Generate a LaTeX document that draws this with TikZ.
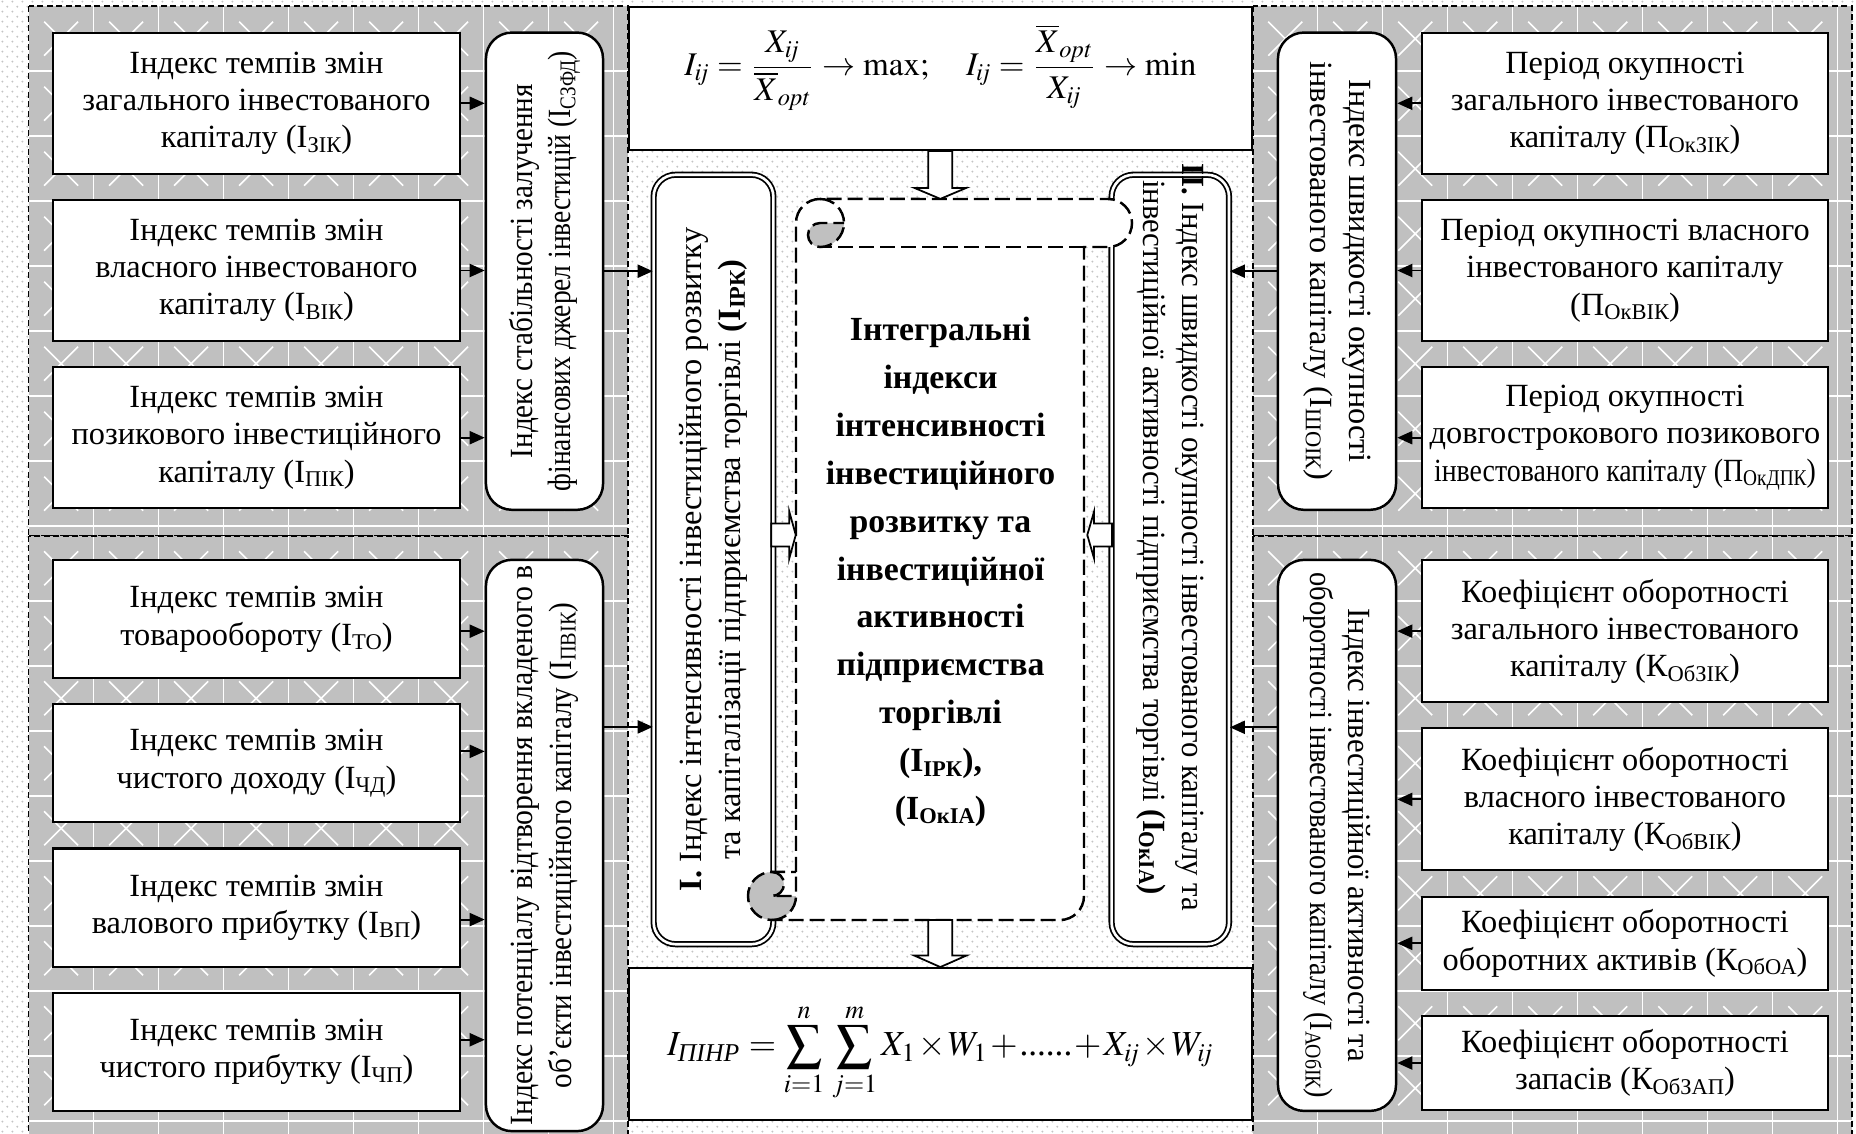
\documentclass[tikz,border=0pt]{standalone}
\usepackage{amsmath}
\usepackage{mathptmx}
\usepackage[no-math]{fontspec}
\setmainfont{Liberation Serif}
\usepackage{tikz}
\usetikzlibrary{arrows.meta, positioning, calc, patterns.meta}
\definecolor{pgray}{HTML}{C0C0C0}
\definecolor{dotgray}{HTML}{C4C4C4}
\newcommand{\boxfont}{\fontsize{9.2pt}{10.6pt}\selectfont}
\newcommand{\sbs}[1]{\raisebox{-0.3ex}{\fontsize{6.4pt}{7pt}\selectfont #1}}
\newcommand{\cnd}[2][0.87]{\scalebox{#1}[1]{#2}}
\tikzdeclarepattern{
  name=finedots,
  type=uncolored,
  bounding box={(0pt,0pt) and (2.8pt,2.8pt)},
  tile size={(2.8pt,2.8pt)},
  code={
    \pgfpathcircle{\pgfqpoint{0.7pt}{0.7pt}}{0.3pt}
    \pgfpathcircle{\pgfqpoint{2.1pt}{2.1pt}}{0.3pt}
    \pgfusepath{fill}
  }
}

\begin{document}
\begin{tikzpicture}[
  x=0.01cm, y=-0.01cm,
  src/.style={rectangle, draw, line width=0.6pt, fill=white, align=center,
    font=\boxfont, inner sep=2pt},
  grp/.style={rectangle, draw, line width=0.7pt, fill=white, rounded corners=0.26cm},
  main/.style={rectangle, draw, line width=0.5pt, double, double distance=0.75pt,
    fill=white, rounded corners=0.22cm},
  frm/.style={rectangle, draw, line width=0.6pt, fill=white},
  rtxt/.style={align=center, font=\fontsize{9.2pt}{11pt}\selectfont, inner sep=0pt},
  arr/.style={-{Triangle[length=0.15cm,width=0.13cm]}, line width=0.55pt},
  blk/.style={draw, fill=white, line width=0.5pt},
  panel/.style={draw, dash pattern=on 0.06cm off 0.035cm, line width=0.5pt},
  scr/.style={dash pattern=on 0.15cm off 0.06cm, line width=0.7pt},
  wline/.style={white, line width=0.45pt},
  node distance=0.24cm,
]
  \useasboundingbox (0,0) rectangle (1856,1134);
  \clip (0,0) rectangle (1856,1134);
  \fill[white] (0,0) rectangle (1856,1134);
  \fill[pattern=finedots, pattern color=dotgray] (0,0) rectangle (1856,1134);

  % grey panels
  \foreach \xa/\ya/\xb/\yb in {28.6/6.2/628/535.8, 1252.7/6.2/1852/535.8,
                               28.6/535.8/628/1140, 1252.7/535.8/1852/1140}{
    \begin{scope}
      \clip (\xa,\ya) rectangle (\xb,\yb);
      \fill[pgray] (\xa,\ya) rectangle (\xb,\yb);
      \foreach \k in {1,...,9}{
        \draw[wline] ({\xa+65*\k},\ya) -- ({\xa+65*\k},\yb);
        \draw[wline] (\xa,{\ya+65*\k}) -- (\xb,{\ya+65*\k});
      }
      \foreach \i in {0,...,9}{
        \foreach \j in {0,...,9}{
          \draw[wline] ({\xa+65*\i+15.5},{\ya+65*\j+15.5}) -- ++(34,34) ++(-34,0) -- ++(34,-34);
        }
      }
    \end{scope}
    \draw[panel] (\xa,\ya) rectangle (\xb,\yb);
  }

  % left column
  \node[src, minimum width=4.07cm, minimum height=1.41cm] (lt1) at (256.5,103.3)
    {Індекс темпів змін\\загального інвестованого\\капіталу (I\sbs{ЗІК})};
  \node[src, minimum width=4.07cm, minimum height=1.41cm, below=of lt1] (lt2)
    {Індекс темпів змін\\власного інвестованого\\капіталу (I\sbs{ВІК})};
  \node[src, minimum width=4.07cm, minimum height=1.41cm, below=of lt2] (lt3)
    {Індекс темпів змін\\позикового інвестиційного\\капіталу (I\sbs{ПІК})};
  \node[src, minimum width=4.07cm, minimum height=1.18cm] (lb1) at (256.5,619.2)
    {Індекс темпів змін\\товарообороту (I\sbs{ТО})};
  \node[src, minimum width=4.07cm, minimum height=1.18cm, below=of lb1] (lb2)
    {Індекс темпів змін\\чистого доходу (I\sbs{ЧД})};
  \node[src, minimum width=4.07cm, minimum height=1.18cm, below=of lb2] (lb3)
    {Індекс темпів змін\\валового прибутку (I\sbs{ВП})};
  \node[src, minimum width=4.07cm, minimum height=1.18cm, below=of lb3] (lb4)
    {Індекс темпів змін\\чистого прибутку (I\sbs{ЧП})};

  \node[grp, minimum width=1.17cm, minimum height=4.77cm] (ltr) at (544.5,271.2) {};
  \node[rtxt, rotate=90] at (ltr) {\cnd[0.9]{Індекс стабільності залучення}\\\cnd[0.85]{фінансових джерел інвестицій (I\sbs{СЗФД})}};
  \node[grp, minimum width=1.17cm, minimum height=5.71cm] (lbr) at (544.5,845.5) {};
  \node[rtxt, rotate=90] at (lbr) {\cnd[0.92]{Індекс потенціалу відтворення вкладеного в}\\\cnd[0.9]{об’єкти інвестиційного капіталу (I\sbs{ПВІК})}};

  % right column
  \node[src, minimum width=4.06cm, minimum height=1.41cm] (rt1) at (1625,103.3)
    {Період окупності\\загального інвестованого\\капіталу (П\sbs{ОкЗІК})};
  \node[src, minimum width=4.06cm, minimum height=1.41cm, below=of rt1] (rt2)
    {Період окупності власного\\інвестованого капіталу\\(П\sbs{ОкВІК})};
  \node[src, minimum width=4.06cm, minimum height=1.41cm, below=of rt2] (rt3)
    {Період окупності\\довгострокового позикового\\\scalebox{0.86}[1]{інвестованого капіталу (П\sbs{ОкДПК})}};
  \node[src, minimum width=4.06cm, minimum height=1.42cm] (rb1) at (1625,631.2)
    {Коефіцієнт оборотності\\загального інвестованого\\капіталу (К\sbs{ОбЗІК})};
  \node[src, minimum width=4.06cm, minimum height=1.42cm, below=of rb1] (rb2)
    {Коефіцієнт оборотності\\власного інвестованого\\капіталу (К\sbs{ОбВІК})};
  \node[src, minimum width=4.06cm, minimum height=0.935cm, below=of rb2] (rb3)
    {Коефіцієнт оборотності\\оборотних активів (К\sbs{ОбОА})};
  \node[src, minimum width=4.06cm, minimum height=0.935cm, below=of rb3] (rb4)
    {Коефіцієнт оборотності\\запасів (К\sbs{ОбЗАП})};

  \node[grp, minimum width=1.18cm, minimum height=4.77cm] (rtr) at (1337,271.2) {};
  \node[rtxt, rotate=-90] at (rtr) {Індекс швидкості окупності\\інвестованого капіталу (I\sbs{ШОІК})};
  \node[grp, minimum width=1.18cm, minimum height=5.507cm] (rbr) at (1337,835.4) {};
  \node[rtxt, rotate=-90] at (rbr) {\cnd[0.95]{Індекс інвестиційної активності та}\\\cnd[0.88]{оборотності інвестованого капіталу (I\sbs{АОбІК})}};

  % formulas
  \node[frm, minimum width=6.227cm, minimum height=1.426cm] (ftop) at (940.35,78.5) {};
  \node (ftopf) at ([yshift=0.11cm]ftop.center) {\fontsize{9.4pt}{11pt}\selectfont
    $I_{\mathit{ij}}=\dfrac{X_{\mathit{ij}}}{\overline{X}_{\mathit{opt}}}\to\max;\quad
     I_{\mathit{ij}}=\dfrac{\overline{X}_{\mathit{opt}}}{X_{\mathit{ij}}}\to\min$};
  \node[frm, minimum width=6.227cm, minimum height=1.521cm] (fbot) at (940.35,1044.25) {};
  \node (fbotf) at ([yshift=-0.08cm]fbot.center) {\fontsize{10pt}{12pt}\selectfont
    \medmuskip=1mu
    $I_{\mbox{\fontsize{7.3pt}{8pt}\selectfont\itshape ПІНР}}=\displaystyle\sum_{i=1}^{n}\,\sum_{j=1}^{m}
     X_1\times W_1+\mbox{......}+X_{\mathit{ij}}\times W_{\mathit{ij}}$};

  % main index boxes
  \node[main, minimum width=1.197cm, minimum height=7.69cm] (ibox) at (713.5,559.5) {};
  \node[rtxt, rotate=90] at (ibox) {\textbf{I.} Індекс інтенсивності інвестиційного розвитку\\та капіталізації підприємства торгівлі \textbf{(I\sbs{ІРК})}};
  \node[main, minimum width=1.174cm, minimum height=7.69cm] (iibox) at (1170.3,559.5) {};
  \node[rtxt, rotate=-90] at ([yshift=0.22cm]iibox.center) {\cnd[0.95]{\textbf{II.} Індекс швидкості окупності інвестованого капіталу та}\\\cnd[0.95]{інвестиційної активності підприємства торгівлі \textbf{(I\sbs{ОкІА})}}};

  % scroll
  \fill[white] (796,872) -- (796,223) arc[start angle=180, end angle=90, radius=0.24cm]
    -- (1108,199) arc[start angle=90, end angle=-90, radius=0.24cm]
    -- (1084,247) -- (1084,896) arc[start angle=0, end angle=-90, radius=0.24cm]
    -- (772,920) arc[start angle=270, end angle=90, radius=0.24cm] -- cycle;
  \fill[pgray] (844,223) arc[start angle=0, end angle=-90, radius=0.24cm]
    arc[start angle=270, end angle=90, radius=0.12cm] -- cycle;
  \fill[pgray] (772,896) circle[radius=0.24cm];
  \fill[white] (772,872) -- (796,872) -- (796,896) -- (772,896)
    arc[start angle=-90, end angle=90, radius=0.12cm] -- cycle;
  \draw[scr] (796,872) -- (796,223) arc[start angle=180, end angle=90, radius=0.24cm]
    -- (1108,199) arc[start angle=90, end angle=-90, radius=0.24cm]
    -- (1084,247) -- (1084,896) arc[start angle=0, end angle=-90, radius=0.24cm]
    -- (772,920) arc[start angle=270, end angle=90, radius=0.24cm] -- cycle;
  \draw[scr] (820,199) arc[start angle=90, end angle=-90, radius=0.24cm]
    arc[start angle=270, end angle=90, radius=0.12cm] -- (844,223);
  \draw[scr] (1084,247) -- (820,247);
  \draw[scr] (772,872) arc[start angle=90, end angle=-90, radius=0.12cm] -- (796,896);
  \draw[scr] (772,920) arc[start angle=270, end angle=360, radius=0.24cm] -- (796,872);

  \node[align=center, font=\fontsize{9.6pt}{13.6pt}\selectfont\bfseries] (integ) at (940.5,572)
    {Інтегральні\\індекси\\інтенсивності\\інвестиційного\\розвитку та\\інвестиційної\\активності\\підприємства\\торгівлі\\(I\sbs{ІРК}),\\(I\sbs{ОкІА})};

  % connectors
  \foreach \n in {lt1,lt2,lt3}{\draw[arr] (\n.east) -- (\n.east -| ltr.west);}
  \foreach \n/\s in {lb1/-0.12cm,lb2/0.12cm,lb3/-0.12cm,lb4/0.12cm}{
    \draw[arr] ([yshift=\s]\n.east) -- ([yshift=\s]\n.east -| lbr.west);}
  \foreach \n in {rt1,rt2,rt3}{\draw[arr] (\n.west) -- (\n.west -| rtr.east);}
  \foreach \n in {rb1,rb2,rb3,rb4}{\draw[arr] (\n.west) -- (\n.west -| rbr.east);}
  \draw[arr] (ltr.east) -- (ltr.east -| ibox.west);
  \draw[arr] ([yshift=1.185cm]lbr.east) -- ([yshift=1.185cm]lbr.east -| ibox.west);
  \draw[arr] (rtr.west) -- (rtr.west -| iibox.east);
  \draw[arr] ([yshift=1.08cm]rbr.west) -- ([yshift=1.08cm]rbr.west -| iibox.east);

  % block arrows
  \draw[blk] ([xshift=-0.12cm]ftop.south) -- ++(0,37) -- ++(-14,0) -- ++(26,11)
    -- ++(26,-11) -- ++(-14,0) -- ++(0,-37) -- cycle;
  \draw[blk] ([xshift=-0.12cm,yshift=0.47cm]fbot.north) -- ++(0,35.5) -- ++(-14,0) -- ++(26,11.5)
    -- ++(26,-11.5) -- ++(-14,0) -- ++(0,-35.5) -- cycle;
  \draw[blk] ([xshift=-0.03cm,yshift=0.36cm]ibox.east) -- ++(18,0) -- ++(0,-12) -- ++(6.5,23.5)
    -- ++(-6.5,23.5) -- ++(0,-12) -- ++(-18,0) -- cycle;
  \draw[blk] ([xshift=0.014cm,yshift=0.36cm]iibox.west) -- ++(-18,0) -- ++(0,-12) -- ++(-6.8,23.5)
    -- ++(6.8,23.5) -- ++(0,-12) -- ++(18,0) -- cycle;
\end{tikzpicture}
\end{document}
